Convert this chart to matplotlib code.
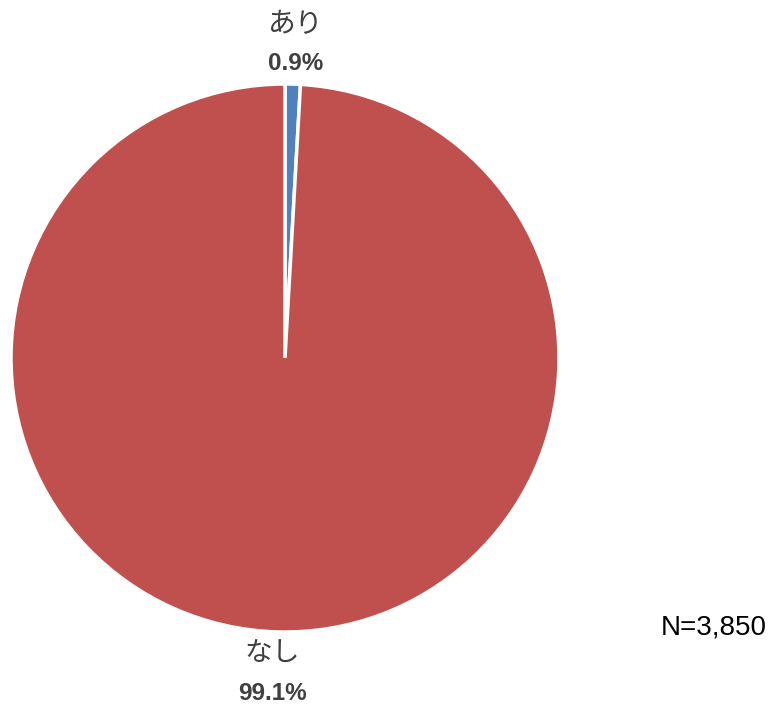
import matplotlib
matplotlib.use("Agg")
import matplotlib.pyplot as plt

# dati
labels = ["あり", "なし"]
values = [0.9, 99.1]
pct_labels = ["0.9%", "99.1%"]
colors = ["#4F81BD", "#C0504D"]
n_text = "N=3,850"

W, H = 771, 705
fig = plt.figure(figsize=(W / 100, H / 100), dpi=100)
ax = fig.add_axes([0, 0, 1, 1])
ax.set_xlim(0, W)
ax.set_ylim(0, H)
ax.set_aspect("equal")
ax.axis("off")

# centro e raggio in pixel (y dal basso)
cx, cy, rad = 285, H - 358, 274
ax.pie(values, colors=colors, startangle=90, counterclock=False,
       center=(cx, cy), radius=rad,
       wedgeprops=dict(edgecolor="white", linewidth=2.5))
ax.set_xlim(0, W)
ax.set_ylim(0, H)

grey = "#404040"
jp = ["Noto Sans CJK JP", "DejaVu Sans"]
# etichette: categoria sopra, percentuale sotto
pos = [(296, 24, 63), (272, 654, 693)]
for lab, pct, (x, y1, y2) in zip(labels, pct_labels, pos):
    ax.text(x, H - y1, lab, ha="center", va="center", fontsize=20,
            color=grey, family=jp)
    ax.text(x, H - y2, pct, ha="center", va="center", fontsize=17.5,
            color=grey, fontweight="bold", family="Liberation Sans")

ax.text(714, H - 628, n_text, ha="center", va="center", fontsize=20,
        color="black", family="Liberation Sans")

fig.savefig("out.png", dpi=100)
